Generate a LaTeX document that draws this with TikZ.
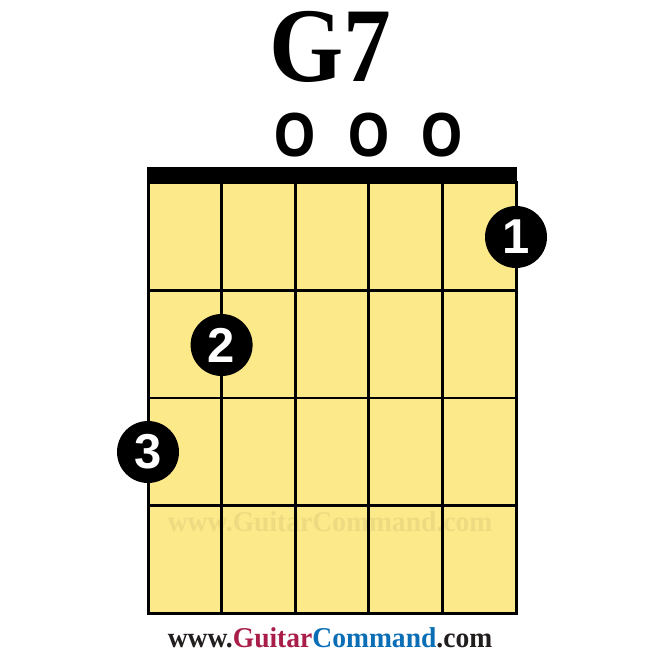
\documentclass[tikz,border=0pt]{standalone}
\usepackage{xcolor}
\usepackage{fontspec}
\setmainfont{Liberation Serif}
\setsansfont{Liberation Sans}
\newfontfamily\openfont{Open Sans}
\usepackage{tikz}
\usetikzlibrary{positioning}

\definecolor{fretyellow}{RGB}{252,233,138}
\definecolor{markyellow}{RGB}{236,219,128}
\definecolor{gcred}{RGB}{168,30,72}
\definecolor{gcblue}{RGB}{10,110,182}
\definecolor{gcblack}{RGB}{34,30,30}

\tikzset{
  fingerdot/.style={circle,fill=black,minimum size=62pt,inner sep=0pt,
    text=white,font=\sffamily\bfseries\fontsize{49}{49}\selectfont},
  openmark/.style={anchor=base,xscale=.9,font=\openfont\bfseries\fontsize{60}{60}\selectfont},
  siteline/.style={anchor=base,font=\rmfamily\bfseries\fontsize{28.7}{29}\selectfont,xscale=.96}
}

\begin{document}
\begin{tikzpicture}[x=1pt,y=-1pt]
\def\board{(148,183) rectangle (516,613)}
\def\nut{(147,167) rectangle (517,183)}
\useasboundingbox (0,0) rectangle (660,660);
      \fill[fretyellow] \board;
      % faint watermark under the grid
      \node[siteline,text=markyellow] (mark) at (330,531) {www.GuitarCommand.com};
      \foreach \x in {221.6,295.2,368.8,442.4}
          \draw[line width=2.8pt] (\x,183) -- (\x,613);
      \foreach \y in {290.5,398,505.5}
          \draw[line width=2.8pt] (148,\y) -- (516,\y);
      \draw[line width=3pt] \board;
      \fill \nut;
      \node[anchor=base,xscale=.9,font=\rmfamily\bfseries\fontsize{106}{106}\selectfont] (title) at (330,82) {G7};
      \node[openmark] (open3) at (295.2,157) {O};
      \node[openmark] (open4) at (368.8,157) {O};
      \node[openmark] (open5) at (442.4,157) {O};
      \node[fingerdot] (f1) at (516,237) {1};
      \node[fingerdot] (f2) at (221.6,345) {2};
      \node[fingerdot] (f3) at (148,452) {3};
      \node[siteline,text=gcblack] (site) at (330,647)
          {www.\textcolor{gcred}{Guitar}\textcolor{gcblue}{Command}.com};
\end{tikzpicture}
\end{document}
